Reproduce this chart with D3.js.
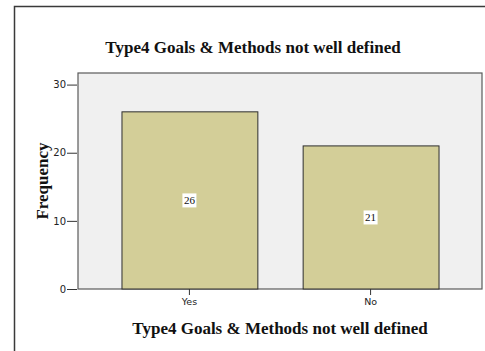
<!DOCTYPE html>
<html>
<head>
<meta charset="utf-8">
<script src="https://cdn.jsdelivr.net/npm/d3@7"></script>
<style>
  html, body { margin: 0; padding: 0; background: #fff; }
  svg { display: block; }
</style>
</head>
<body>
<svg id="chart" width="485" height="351"></svg>
<script>
// Frequency counts per answer
const categories = ["Yes", "No"];
const frequencies = [26, 21];
const yTicks = [0, 10, 20, 30];
const chartTitle = "Type4 Goals & Methods not well defined";
const xTitle = "Type4 Goals & Methods not well defined";
const yTitle = "Frequency";

const svg = d3.select("#chart");
const W = 485, H = 351;
const plot = { left: 78, right: 482, top: 73, bottom: 289 };
const serif = "'Liberation Serif', 'Times New Roman', serif";

// outer frame (left and top edges visible)
svg.append("path")
  .attr("d", `M14.5,${H} V6.5 H${W}`)
  .attr("fill", "none")
  .attr("stroke", "#3a3a3a")
  .attr("stroke-width", 1.5);

// plot background
svg.append("rect")
  .attr("x", plot.left).attr("y", plot.top)
  .attr("width", plot.right - plot.left)
  .attr("height", plot.bottom - plot.top)
  .attr("fill", "#f0f0f0")
  .attr("stroke", "#5a5a5a")
  .attr("stroke-width", 1.2);

const x = d3.scaleBand()
  .domain(categories)
  .range([plot.left, plot.right])
  .paddingInner(0.25)
  .paddingOuter(0.24);

const y = d3.scaleLinear()
  .domain([0, 31.7])
  .range([plot.bottom, plot.top]);

// bars
svg.append("g").selectAll("rect")
  .data(categories)
  .join("rect")
  .attr("x", d => x(d) + 0.5)
  .attr("y", (d, i) => y(frequencies[i]))
  .attr("width", x.bandwidth())
  .attr("height", (d, i) => y(0) - y(frequencies[i]))
  .attr("fill", "#d3ce98")
  .attr("stroke", "#2e2e2e")
  .attr("stroke-width", 1);

// value labels with white boxes
const lbl = svg.append("g").selectAll("g")
  .data(categories)
  .join("g")
  .attr("transform", (d, i) =>
    `translate(${x(d) + x.bandwidth() / 2},${(y(frequencies[i]) + y(0)) / 2})`);
lbl.append("rect")
  .attr("x", -7).attr("y", -7)
  .attr("width", 14).attr("height", 14)
  .attr("fill", "#fff");
lbl.append("text")
  .attr("text-anchor", "middle")
  .attr("dy", "0.35em")
  .attr("font-family", serif)
  .attr("font-size", 11)
  .attr("fill", "#111")
  .text((d, i) => frequencies[i]);

// y axis
const yAxis = svg.append("g")
  .attr("transform", `translate(${plot.left - 1},0)`)
  .call(d3.axisLeft(y).tickValues(yTicks).tickSize(10).tickPadding(1));
yAxis.select(".domain").remove();
yAxis.selectAll(".tick line").attr("stroke", "#333");
yAxis.selectAll(".tick text")
  .attr("font-family", "'DejaVu Sans', sans-serif")
  .attr("font-size", 10)
  .attr("fill", "#222");

// x axis
const xAxis = svg.append("g")
  .attr("transform", `translate(0,${plot.bottom})`)
  .call(d3.axisBottom(x).tickSize(6).tickPadding(3));
xAxis.select(".domain").remove();
xAxis.selectAll(".tick line").attr("stroke", "#333");
xAxis.selectAll(".tick text")
  .attr("font-family", "'DejaVu Sans', sans-serif")
  .attr("font-size", 9.5)
  .attr("fill", "#222");

// titles
svg.append("text")
  .attr("x", 253).attr("y", 53)
  .attr("text-anchor", "middle")
  .attr("font-family", serif)
  .attr("font-weight", "bold")
  .attr("font-size", 17)
  .attr("fill", "#111")
  .text(chartTitle);

svg.append("text")
  .attr("x", (plot.left + plot.right) / 2).attr("y", 334)
  .attr("text-anchor", "middle")
  .attr("font-family", serif)
  .attr("font-weight", "bold")
  .attr("font-size", 17)
  .attr("fill", "#111")
  .text(xTitle);

svg.append("text")
  .attr("transform", `translate(48,${(plot.top + plot.bottom) / 2}) rotate(-90)`)
  .attr("text-anchor", "middle")
  .attr("font-family", serif)
  .attr("font-weight", "bold")
  .attr("font-size", 17)
  .attr("fill", "#111")
  .text(yTitle);
</script>
</body>
</html>
